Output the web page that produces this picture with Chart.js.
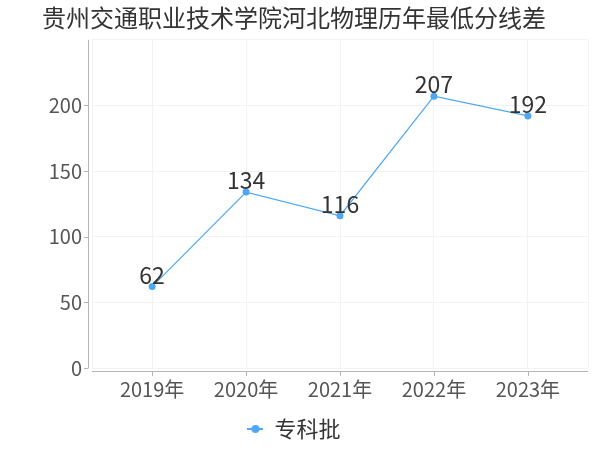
<!DOCTYPE html>
<html>
<head>
<meta charset="utf-8">
<script src="https://cdn.jsdelivr.net/npm/chart.js@4/dist/chart.umd.min.js"></script>
<style>
  html, body { margin: 0; padding: 0; background: #fff; }
  #wrap { width: 600px; height: 450px; }
</style>
</head>
<body>
<div id="wrap"><canvas id="grafico"></canvas></div>
<script>
// ─── DATA ────────────────────────────────────────────────
const anos = ['2019年', '2020年', '2021年', '2022年', '2023年'];
const valores = [62, 134, 116, 207, 192];
const serieNome = '专科批';
const yTicks = [0, 50, 100, 150, 200];

const FONT = '"Noto Sans CJK SC", "Noto Sans", sans-serif';
const AZUL = '#4ea7f5';

// legend marker: line with a dot
function legendMarker() {
  const c = document.createElement('canvas');
  c.width = 16; c.height = 10;
  const g = c.getContext('2d');
  g.strokeStyle = AZUL; g.lineWidth = 2;
  g.beginPath(); g.moveTo(0, 5); g.lineTo(16, 5); g.stroke();
  g.fillStyle = AZUL;
  g.beginPath(); g.arc(8, 5, 4, 0, Math.PI * 2); g.fill();
  return c;
}

// value labels above points
const rotulos = {
  id: 'rotulos',
  afterDatasetsDraw(chart) {
    const ctx = chart.ctx;
    const meta = chart.getDatasetMeta(0);
    ctx.save();
    ctx.font = '23px ' + FONT;
    ctx.fillStyle = '#333';
    ctx.textAlign = 'center';
    ctx.textBaseline = 'bottom';
    meta.data.forEach((p, i) => {
      ctx.fillText(String(valores[i]), p.x, p.y);
    });
    ctx.restore();
  }
};

// offset axis lines (y line a bit left, x line a bit below)
const eixos = {
  id: 'eixos',
  afterDraw(chart) {
    const a = chart.chartArea;
    const ctx = chart.ctx;
    ctx.save();
    ctx.strokeStyle = '#b5b5b5';
    ctx.lineWidth = 1;
    ctx.beginPath();
    ctx.moveTo(a.left - 3.5, a.top);
    ctx.lineTo(a.left - 3.5, a.bottom);
    ctx.moveTo(a.left, a.bottom + 3.5);
    ctx.lineTo(a.right, a.bottom + 3.5);
    ctx.stroke();
    // small tick marks
    const xs = chart.scales.x;
    anos.forEach((_, i) => {
      const x = Math.round(xs.getPixelForValue(i)) + 0.5;
      ctx.beginPath();
      ctx.moveTo(x, a.bottom + 3.5);
      ctx.lineTo(x, a.bottom + 8);
      ctx.stroke();
    });
    const ys = chart.scales.y;
    yTicks.forEach(v => {
      const y = Math.round(ys.getPixelForValue(v)) + 0.5;
      ctx.beginPath();
      ctx.moveTo(a.left - 3.5, y);
      ctx.lineTo(a.left - 8, y);
      ctx.stroke();
    });
    ctx.restore();
  }
};

new Chart(document.getElementById('grafico'), {
  type: 'line',
  data: {
    datasets: [{
      label: serieNome,
      data: valores.map((v, i) => ({ x: i, y: v })),
      borderColor: AZUL,
      backgroundColor: AZUL,
      borderWidth: 1.2,
      pointRadius: 3.5,
      pointHoverRadius: 3.5,
      pointBackgroundColor: AZUL,
      pointBorderWidth: 0,
      pointStyle: 'circle',
      tension: 0
    }]
  },
  options: {
    responsive: true,
    maintainAspectRatio: false,
    animation: false,
    layout: { padding: { left: 0, right: 12, top: 0, bottom: 0 } },
    scales: {
      x: {
        type: 'linear',
        min: -0.64,
        max: 4.64,
        afterBuildTicks(s) {
          s.ticks = [{ value: -0.64 }].concat(anos.map((_, i) => ({ value: i })), [{ value: 4.64 }]);
        },
        afterFit(s) { s.height = 46; },
        border: { display: false },
        grid: { color: '#f3f3f3', drawTicks: false },
        ticks: {
          padding: 9,
          color: '#555',
          font: { family: FONT, size: 20 },
          autoSkip: false,
          maxRotation: 0,
          callback: v => (Number.isInteger(v) ? anos[v] : '')
        }
      },
      y: {
        min: 0,
        max: 250,
        afterBuildTicks(s) {
          s.ticks = yTicks.concat([250]).map(v => ({ value: v }));
        },
        afterFit(s) { s.width = 92; },
        border: { display: false },
        grid: { color: '#f3f3f3', drawTicks: false },
        ticks: {
          padding: 10,
          color: '#555',
          font: { family: FONT, size: 20 },
          callback: v => (v === 250 ? '' : v)
        }
      }
    },
    plugins: {
      title: {
        display: true,
        text: '贵州交通职业技术学院河北物理历年最低分线差',
        color: '#333',
        font: { family: FONT, size: 24, weight: 'normal' },
        padding: { top: 3, bottom: 8 }
      },
      legend: {
        position: 'bottom',
        labels: {
          usePointStyle: true,
          pointStyle: legendMarker(),
          pointStyleWidth: 16,
          color: '#333',
          font: { family: FONT, size: 22 },
          padding: 4
        }
      },
      tooltip: { enabled: false }
    }
  },
  plugins: [rotulos, eixos]
});
</script>
</body>
</html>
